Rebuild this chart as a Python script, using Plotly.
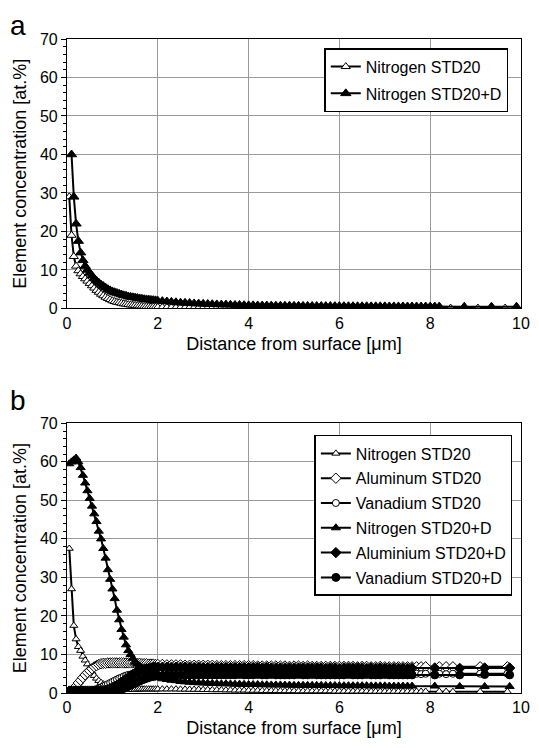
import plotly.graph_objects as go

# depth grids [um]
depth_near = [0.05, 0.1, 0.15, 0.2, 0.25, 0.3, 0.35, 0.4, 0.45, 0.5,
              0.55, 0.6, 0.65, 0.7, 0.75, 0.8, 0.85, 0.9, 0.95, 1.0,
              1.05, 1.1, 1.15, 1.2, 1.25, 1.3, 1.35, 1.4, 1.45, 1.5,
              1.55, 1.6, 1.65, 1.7, 1.75, 1.8, 1.85, 1.9, 1.95, 2.0]
depth_bulk = [2.1, 2.2, 2.3, 2.4, 2.5, 2.6, 2.7, 2.8, 2.9, 3.0,
              3.1, 3.2, 3.3, 3.4, 3.5, 3.6, 3.7, 3.8, 3.9, 4.0,
              4.1, 4.2, 4.3, 4.4, 4.5, 4.6, 4.7, 4.8, 4.9, 5.0,
              5.1, 5.2, 5.3, 5.4, 5.5, 5.6, 5.7, 5.8, 5.9, 6.0,
              6.1, 6.2, 6.3, 6.4, 6.5, 6.6, 6.7, 6.8, 6.9, 7.0,
              7.1, 7.2, 7.3, 7.4, 7.5, 7.6, 7.7, 7.8, 7.9, 8.0,
              8.1, 8.2]

# ---------------- panel a ----------------
a_tail_std = [8.45, 9.05, 9.65]
a_tail_d = [8.75, 9.35, 9.9]

a_n_std = [29, 19, 13.5, 11, 9.8, 9, 8.3, 7.7, 7.1, 6.5,
           5.9, 5.3, 4.7, 4.2, 3.7, 3.3, 2.9, 2.6, 2.3, 2.0,
           1.8, 1.6, 1.5, 1.35, 1.2, 1.1, 1.0, 0.9, 0.85, 0.8,
           0.7, 0.65, 0.6, 0.55, 0.5, 0.45, 0.4, 0.4, 0.35, 0.3,
           0.3, 0.28, 0.26, 0.25, 0.24, 0.22, 0.21, 0.2, 0.2, 0.19,
           0.18, 0.18, 0.17, 0.17, 0.16, 0.16, 0.15, 0.15, 0.15, 0.14,
           0.14, 0.14, 0.13, 0.13, 0.13, 0.13, 0.12, 0.12, 0.12, 0.12,
           0.12, 0.11, 0.11, 0.11, 0.11, 0.11, 0.11, 0.1, 0.1, 0.1,
           0.1, 0.1, 0.1, 0.1, 0.1, 0.1, 0.1, 0.1, 0.1, 0.1,
           0.1, 0.1, 0.1, 0.1, 0.1, 0.1, 0.1, 0.1, 0.1, 0.1,
           0.1, 0.1,
           0.1, 0.1, 0.1]
a_n_d = [None, 40, 29, 22, 17.5, 14.5, 12.5, 11, 10, 9.2,
         8.5, 7.8, 7.2, 6.7, 6.2, 5.8, 5.4, 5.0, 4.7, 4.4,
         4.2, 4.0, 3.8, 3.6, 3.4, 3.3, 3.1, 3.0, 2.9, 2.8,
         2.7, 2.6, 2.5, 2.4, 2.35, 2.3, 2.2, 2.15, 2.1, 2.0,
         1.9, 1.8, 1.7, 1.6, 1.5, 1.45, 1.4, 1.3, 1.25, 1.2,
         1.15, 1.1, 1.05, 1.0, 1.0, 0.95, 0.9, 0.9, 0.85, 0.8,
         0.8, 0.78, 0.76, 0.75, 0.74, 0.72, 0.71, 0.7, 0.7, 0.68,
         0.67, 0.66, 0.65, 0.64, 0.63, 0.62, 0.62, 0.61, 0.6, 0.6,
         0.59, 0.58, 0.58, 0.57, 0.56, 0.56, 0.55, 0.55, 0.54, 0.54,
         0.53, 0.53, 0.52, 0.52, 0.51, 0.51, 0.5, 0.5, 0.5, 0.49,
         0.49, 0.48,
         0.45, 0.45, 0.45]

# ---------------- panel b ----------------
b_bulk = depth_bulk[:56]
b_tail_std = [7.7, 7.8, 7.9, 8.2, 8.35, 8.5, 9.1, 9.7]
b_tail_d = [8.1, 8.65, 9.2, 9.75]

b_n_std = [37.5, 27, 17.5, 14, 12, 11, 9.5, 8.5, 7.5, 6.5,
           5.5, 4.5, 3.8, 3.2, 2.7, 2.3, 2.0, 1.7, 1.5, 1.3,
           1.2, 1.1, 1.0, 1.0, 0.9, 0.9, 0.9, 0.9, 0.9, 0.9,
           0.9, 1.0, 1.0, 1.0, 1.0, 1.0, 1.0, 1.0, 1.0, 1.0,
           1.0, 1.0, 1.0, 1.0, 0.95, 0.95, 0.9, 0.9, 0.9, 0.85,
           0.85, 0.8, 0.8, 0.8, 0.75, 0.75, 0.7, 0.7, 0.7, 0.65,
           0.65, 0.65, 0.6, 0.6, 0.6, 0.6, 0.55, 0.55, 0.55, 0.55,
           0.5, 0.5, 0.5, 0.5, 0.5, 0.5, 0.5, 0.5, 0.45, 0.45,
           0.45, 0.45, 0.45, 0.45, 0.45, 0.45, 0.4, 0.4, 0.4, 0.4,
           0.4, 0.4, 0.4, 0.4, 0.4, 0.4,
           0.4, 0.4, 0.4, 0.4, 0.4, 0.35, 0.35, 0.35]
b_al_std = [0.3, 0.5, 1.0, 1.8, 2.6, 3.3, 4.0, 4.7, 5.3, 5.8,
            6.3, 6.8, 7.1, 7.4, 7.6, 7.7, 7.7, 7.8, 7.8, 7.8,
            7.8, 7.8, 7.8, 7.8, 7.8, 7.8, 7.8, 7.8, 7.8, 7.7,
            7.7, 7.7, 7.6, 7.6, 7.6, 7.5, 7.5, 7.5, 7.4, 7.4,
            7.4, 7.3, 7.3, 7.3, 7.3, 7.2, 7.2, 7.2, 7.2, 7.2,
            7.2, 7.2, 7.1, 7.1, 7.1, 7.1, 7.1, 7.1, 7.1, 7.1,
            7.1, 7.0, 7.0, 7.0, 7.0, 7.0, 7.0, 7.0, 6.9, 7.0,
            7.0, 6.9, 7.0, 6.9, 6.9, 6.9, 6.9, 6.9, 6.9, 6.9,
            6.9, 6.9, 6.9, 6.8, 6.9, 6.9, 6.8, 6.8, 6.9, 6.8,
            6.8, 6.8, 6.8, 6.8, 6.8, 6.8,
            6.8, 6.8, 6.8, 6.8, 6.8, 6.8, 6.8, 6.8]
b_v_std = [0.2, 0.2, 0.2, 0.2, 0.3, 0.3, 0.3, 0.4, 0.4, 0.5,
           0.6, 0.8, 1.0, 1.2, 1.4, 1.7, 2.0, 2.3, 2.6, 2.9,
           3.2, 3.5, 3.8, 4.0, 4.3, 4.5, 4.7, 4.8, 4.9, 5.0,
           5.1, 5.2, 5.2, 5.3, 5.3, 5.3, 5.3, 5.3, 5.3, 5.3,
           5.3, 5.3, 5.3, 5.3, 5.3, 5.3, 5.3, 5.2, 5.2, 5.2,
           5.2, 5.2, 5.2, 5.2, 5.2, 5.2, 5.2, 5.2, 5.2, 5.2,
           5.2, 5.2, 5.1, 5.2, 5.1, 5.1, 5.1, 5.1, 5.1, 5.1,
           5.1, 5.1, 5.0, 5.1, 5.1, 5.0, 5.1, 5.0, 5.0, 5.1,
           5.0, 5.0, 5.0, 5.0, 5.0, 5.0, 5.0, 4.9, 5.0, 5.0,
           5.0, 4.9, 5.0, 4.9, 5.0, 5.0,
           5.0, 4.9, 5.0, 5.0, 4.9, 5.0, 5.0, 5.0]
b_n_d = [59.5, 60, 60.5, 61, 60, 58.5, 56.5, 54.5, 52.5, 50.5,
         48.5, 46.5, 44.5, 42, 40, 37.5, 35, 32, 29.5, 27,
         24.5, 21.5, 19, 16.5, 14.5, 12.5, 11, 10, 9, 8,
         7.5, 7, 6.6, 6.2, 5.8, 5.4, 5.0, 4.6, 4.3, 4.0,
         3.7, 3.5, 3.3, 3.2, 3.0, 2.9, 2.8, 2.7, 2.65, 2.6,
         2.55, 2.5, 2.45, 2.4, 2.4, 2.35, 2.3, 2.3, 2.25, 2.2,
         2.2, 2.2, 2.15, 2.15, 2.1, 2.1, 2.1, 2.05, 2.05, 2.0,
         2.0, 2.0, 2.0, 2.0, 2.0, 2.0, 1.95, 1.95, 1.95, 1.9,
         1.9, 1.9, 1.9, 1.9, 1.9, 1.9, 1.85, 1.85, 1.85, 1.85,
         1.8, 1.8, 1.8, 1.8, 1.8, 1.8,
         1.8, 1.7, 1.7, 1.7]
b_al_d = [0.5, 0.5, 0.5, 0.5, 0.5, 0.5, 0.5, 0.5, 0.5, 0.5,
          0.5, 0.5, 0.5, 0.5, 0.6, 0.6, 0.7, 0.9, 1.1, 1.4,
          1.7, 2.0, 2.4, 2.8, 3.2, 3.6, 4.0, 4.4, 4.8, 5.1,
          5.4, 5.7, 5.9, 6.1, 6.3, 6.4, 6.5, 6.6, 6.6, 6.7,
          6.7, 6.7, 6.7, 6.7, 6.7, 6.7, 6.7, 6.6, 6.7, 6.6,
          6.6, 6.6, 6.6, 6.6, 6.6, 6.6, 6.6, 6.6, 6.6, 6.6,
          6.6, 6.6, 6.5, 6.6, 6.5, 6.5, 6.5, 6.5, 6.5, 6.5,
          6.5, 6.5, 6.5, 6.5, 6.5, 6.5, 6.4, 6.5, 6.5, 6.4,
          6.5, 6.5, 6.5, 6.5, 6.5, 6.4, 6.5, 6.4, 6.5, 6.4,
          6.4, 6.4, 6.4, 6.4, 6.4, 6.4,
          6.5, 6.4, 6.5, 6.5]
b_v_d = [0.2, 0.2, 0.2, 0.2, 0.2, 0.2, 0.2, 0.2, 0.2, 0.3,
         0.3, 0.3, 0.3, 0.3, 0.3, 0.3, 0.3, 0.3, 0.4, 0.4,
         0.5, 0.6, 0.8, 1.0, 1.2, 1.5, 1.8, 2.0, 2.3, 2.6,
         2.9, 3.1, 3.4, 3.6, 3.8, 4.0, 4.2, 4.3, 4.4, 4.5,
         4.5, 4.6, 4.6, 4.6, 4.6, 4.6, 4.7, 4.6, 4.7, 4.7,
         4.7, 4.7, 4.7, 4.7, 4.7, 4.7, 4.7, 4.8, 4.7, 4.7,
         4.7, 4.8, 4.7, 4.7, 4.8, 4.7, 4.7, 4.7, 4.7, 4.7,
         4.8, 4.7, 4.7, 4.8, 4.7, 4.7, 4.7, 4.7, 4.7, 4.7,
         4.7, 4.8, 4.7, 4.7, 4.7, 4.8, 4.7, 4.7, 4.7, 4.8,
         4.7, 4.7, 4.7, 4.7, 4.7, 4.7,
         4.7, 4.7, 4.8, 4.7]

FONT = "Arial, Liberation Sans, sans-serif"

fig = go.Figure()


def add(x, y, name, symbol, filled, size, panel):
    ax = "" if panel == 1 else "2"
    fig.add_trace(go.Scatter(
        x=x, y=y, name=name, mode="lines+markers",
        legendgroup=name + ax,
        line=dict(color="black", width=2),
        marker=dict(symbol=symbol, size=size,
                    color="black" if filled else "white",
                    line=dict(color="black", width=1)),
        xaxis="x" + ax, yaxis="y" + ax,
        legend="legend" + ax))


x_a_std = depth_near + depth_bulk + a_tail_std
x_a_d = depth_near + depth_bulk + a_tail_d
add(x_a_std, a_n_std, "Nitrogen STD20", "triangle-up", False, 8, 1)
add(x_a_d, a_n_d, "Nitrogen STD20+D", "triangle-up", True, 9, 1)

x_b_std = depth_near + b_bulk + b_tail_std
x_b_d = depth_near + b_bulk + b_tail_d
add(x_b_std, b_n_std, "Nitrogen STD20", "triangle-up", False, 7, 2)
add(x_b_std, b_al_std, "Aluminum STD20", "diamond", False, 8, 2)
add(x_b_std, b_v_std, "Vanadium STD20", "circle", False, 7, 2)
add(x_b_d, b_n_d, "Nitrogen STD20+D", "triangle-up", True, 8, 2)
add(x_b_d, b_al_d, "Aluminium STD20+D", "diamond", True, 8, 2)
add(x_b_d, b_v_d, "Vanadium STD20+D", "circle", True, 8, 2)

xax = dict(range=[0, 10], dtick=2, showline=True, mirror=True,
           linecolor="black", linewidth=1.2, showgrid=True,
           gridcolor="#9a9a9a", gridwidth=1, zeroline=False,
           ticks="", tickfont=dict(size=16, color="black"),
           title=dict(text="Distance from surface [\u03bcm]",
                      font=dict(size=18, color="black"), standoff=6))
yax = dict(range=[0, 70], dtick=10, showline=True, mirror=True,
           linecolor="black", linewidth=1.2, showgrid=True,
           gridcolor="#9a9a9a", gridwidth=1, zeroline=False,
           ticks="outside", ticklen=5, tickcolor="black",
           minor=dict(dtick=2, ticks="outside", ticklen=3,
                      tickcolor="black", showgrid=False),
           tickfont=dict(size=16, color="black"),
           title=dict(text="Element concentration [at.%]",
                      font=dict(size=18, color="black"), standoff=8))

leg = dict(xanchor="right", yanchor="top", bgcolor="white",
           bordercolor="black", borderwidth=1.5,
           font=dict(size=16, color="black", family=FONT))

# page body adds an 8px offset, so the figure is a bit smaller than the window
fig.update_layout(
    width=531, height=740,
    margin=dict(l=59, r=9, t=31, b=55),
    paper_bgcolor="white", plot_bgcolor="white",
    font=dict(family=FONT, color="black"),
    xaxis=dict(xax, anchor="y"),
    yaxis=dict(yax, domain=[0.588, 1.0], anchor="x"),
    xaxis2=dict(xax, anchor="y2"),
    yaxis2=dict(yax, domain=[0.0, 0.4124], anchor="x2"),
    legend=dict(leg, x=0.972, y=0.986, tracegroupgap=3),
    legend2=dict(leg, x=0.981, y=0.3945, tracegroupgap=1),
    annotations=[
        dict(text="a", x=-0.13, y=1.0206, xref="paper", yref="paper",
             xanchor="left", yanchor="middle", showarrow=False,
             font=dict(size=28, color="black")),
        dict(text="b", x=-0.13, y=0.4465, xref="paper", yref="paper",
             xanchor="left", yanchor="middle", showarrow=False,
             font=dict(size=28, color="black")),
    ],
)

fig.write_html("out.html")
